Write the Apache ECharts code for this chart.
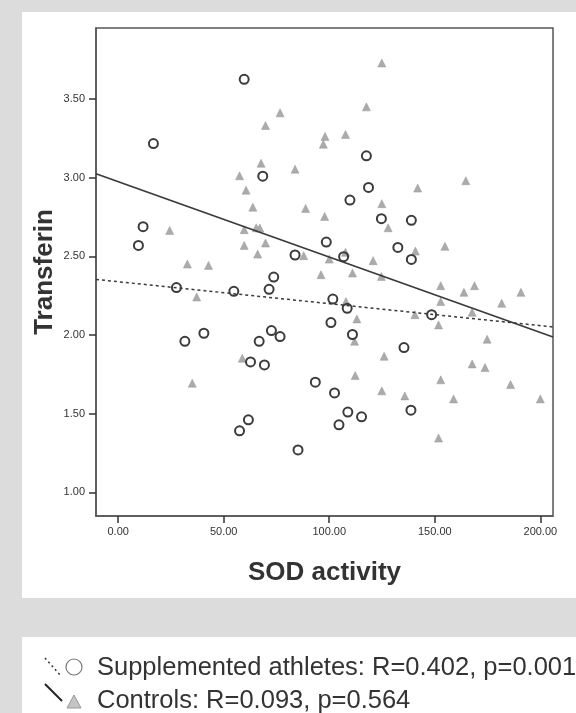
<!DOCTYPE html>
<html>
<head>
<meta charset="utf-8">
<script src="https://cdn.jsdelivr.net/npm/echarts@6/dist/echarts.min.js"></script>
<style>
  html, body { margin: 0; padding: 0; background: #dcdcdc; }
  #chart { width: 576px; height: 713px; }
</style>
</head>
<body>
<div id="chart"></div>
<script>
// supplemented athletes (circles)
var suppX = [59.7, 16.7, 11.8, 9.6, 68.5, 117.6, 118.6, 109.8, 124.7, 98.6, 83.8, 106.8, 132.5,
  138.9, 138.9, 27.6, 54.8, 31.6, 40.6, 62.7, 57.5, 61.7, 73.7, 71.5, 72.6, 76.7, 66.8, 69.3,
  85.2, 93.4, 101.7, 108.5, 100.8, 111.0, 102.5, 108.8, 115.3, 104.6, 148.5, 135.4, 138.7]
var suppY = [3.624, 3.216, 2.688, 2.569, 3.009, 3.138, 2.937, 2.857, 2.739, 2.590, 2.508, 2.497, 2.556,
  2.728, 2.480, 2.301, 2.277, 1.960, 2.011, 1.829, 1.391, 1.461, 2.368, 2.290, 2.028, 1.990, 1.960, 1.810,
  1.270, 1.700, 2.228, 2.169, 2.079, 2.003, 1.632, 1.510, 1.480, 1.429, 2.129, 1.920, 1.522]

// controls (triangles)
var ctrlX = [57.5, 60.6, 24.4, 59.7, 59.7, 32.8, 42.8, 76.7, 69.8, 67.7, 83.8, 63.8, 88.8, 65.4, 67.1,
  69.8, 66.1, 87.9, 124.9, 117.6, 98.0, 97.2, 107.7, 97.8, 124.9, 127.9, 100.0, 107.7, 120.8, 141.9,
  164.7, 154.8, 140.8, 96.1, 111.0, 124.7, 152.8, 168.8, 163.8, 190.8, 152.8, 181.7, 140.6, 167.7,
  151.8, 174.8, 167.7, 173.8, 152.8, 185.9, 135.8, 158.9, 200.0, 151.8, 107.9, 113.1, 112.0, 126.0,
  112.3, 124.9, 37.2, 35.1, 58.8]
var ctrlY = [3.011, 2.920, 2.664, 2.669, 2.569, 2.451, 2.442, 3.411, 3.331, 3.091, 3.053, 2.812, 2.804, 2.681, 2.679,
  2.584, 2.514, 2.504, 3.728, 3.449, 3.261, 3.212, 3.274, 2.753, 2.834, 2.681, 2.482, 2.525, 2.472, 2.933,
  2.980, 2.563, 2.533, 2.383, 2.393, 2.372, 2.313, 2.313, 2.271, 2.271, 2.212, 2.201, 2.129, 2.144,
  2.064, 1.973, 1.816, 1.793, 1.715, 1.685, 1.613, 1.594, 1.594, 1.345, 2.212, 2.102, 1.960, 1.865,
  1.742, 1.645, 2.241, 1.694, 1.852]

// fit lines, ends at the axis limits
var fitX = [-10.5, 206]
var suppFitY = [2.353, 2.051]
var ctrlFitY = [3.024, 1.987]

var xTicks = [0, 50, 100, 150, 200]
var yTicks = [1.0, 1.5, 2.0, 2.5, 3.0, 3.5]

function pairs(xs, ys) {
  return xs.map(function (x, i) { return [x, ys[i]] })
}

var legendFont = '25.5px "Liberation Sans", Arial'

var chart = echarts.init(document.getElementById('chart'))
var option = {
  animation: false,
  backgroundColor: '#dcdcdc',
  graphic: [
    {type: 'rect', z: -10, shape: {x: 22, y: 12, width: 560, height: 586}, style: {fill: '#fff'}},
    {type: 'rect', z: -10, shape: {x: 22, y: 637, width: 560, height: 90}, style: {fill: '#fff'}},
    // legend
    {type: 'line', shape: {x1: 45, y1: 658, x2: 61, y2: 676}, style: {stroke: '#333', lineWidth: 1.5, lineDash: [2, 3]}},
    {type: 'circle', shape: {cx: 74, cy: 667, r: 8}, style: {fill: '#fff', stroke: '#777', lineWidth: 1.2}},
    {type: 'text', left: 97, top: 655, style: {text: 'Supplemented athletes: R=0.402, p=0.001', font: legendFont, fill: '#333'}},
    {type: 'line', shape: {x1: 45, y1: 684, x2: 62, y2: 701}, style: {stroke: '#222', lineWidth: 2}},
    {type: 'polygon', shape: {points: [[74, 695], [81, 708], [67, 708]]}, style: {fill: '#c4c4c4', stroke: '#999', lineWidth: 1}},
    {type: 'text', left: 97, top: 688, style: {text: 'Controls: R=0.093, p=0.564', font: legendFont, fill: '#333'}}
  ],
  grid: {
    left: 96, right: 23, top: 28, bottom: 197,
    show: true, backgroundColor: '#fff', borderColor: '#555', borderWidth: 1.5
  },
  xAxis: {
    type: 'value', min: fitX[0], max: fitX[1],
    name: 'SOD activity', nameLocation: 'middle', nameGap: 44, nameMoveOverlap: false,
    nameTextStyle: {fontSize: 26, fontWeight: 'bold', color: '#333', fontFamily: 'Liberation Sans'},
    axisLine: {show: true, onZero: false, lineStyle: {color: '#555', width: 1.5}},
    axisTick: {show: true, length: 7, lineStyle: {color: '#333', width: 1.5}, customValues: xTicks},
    axisLabel: {fontSize: 11, color: '#333', margin: 10, fontFamily: 'Liberation Sans',
      customValues: xTicks, formatter: function (v) { return v.toFixed(2) }},
    splitLine: {show: false}
  },
  yAxis: {
    type: 'value', min: 0.85, max: 3.95,
    name: 'Transferin', nameLocation: 'middle', nameGap: 38, nameRotate: 90, nameMoveOverlap: false,
    nameTextStyle: {fontSize: 26, fontWeight: 'bold', color: '#333', fontFamily: 'Liberation Sans'},
    axisLine: {show: true, onZero: false, lineStyle: {color: '#555', width: 1.5}},
    axisTick: {show: true, length: 7, lineStyle: {color: '#333', width: 1.5}, customValues: yTicks},
    axisLabel: {fontSize: 11, color: '#333', margin: 11, fontFamily: 'Liberation Sans',
      customValues: yTicks, formatter: function (v) { return v.toFixed(2) }},
    splitLine: {show: false}
  },
  series: [
    {
      name: 'Controls', type: 'scatter', symbol: 'triangle', symbolSize: 8,
      itemStyle: {color: '#ababab', borderColor: '#999', borderWidth: 0.5, opacity: 1},
      data: pairs(ctrlX, ctrlY)
    },
    {
      name: 'Supplemented athletes', type: 'scatter', symbol: 'circle', symbolSize: 9,
      itemStyle: {color: 'rgba(255,255,255,0)', borderColor: '#3c3c3c', borderWidth: 2, opacity: 1},
      data: pairs(suppX, suppY)
    },
    {
      type: 'line', symbol: 'none', silent: true,
      lineStyle: {color: '#3a3a3a', width: 1.5, type: [3, 3]},
      data: pairs(fitX, suppFitY)
    },
    {
      type: 'line', symbol: 'none', silent: true,
      lineStyle: {color: '#3a3a3a', width: 1.8},
      data: pairs(fitX, ctrlFitY)
    }
  ]
}
chart.setOption(option)
</script>
</body>
</html>
